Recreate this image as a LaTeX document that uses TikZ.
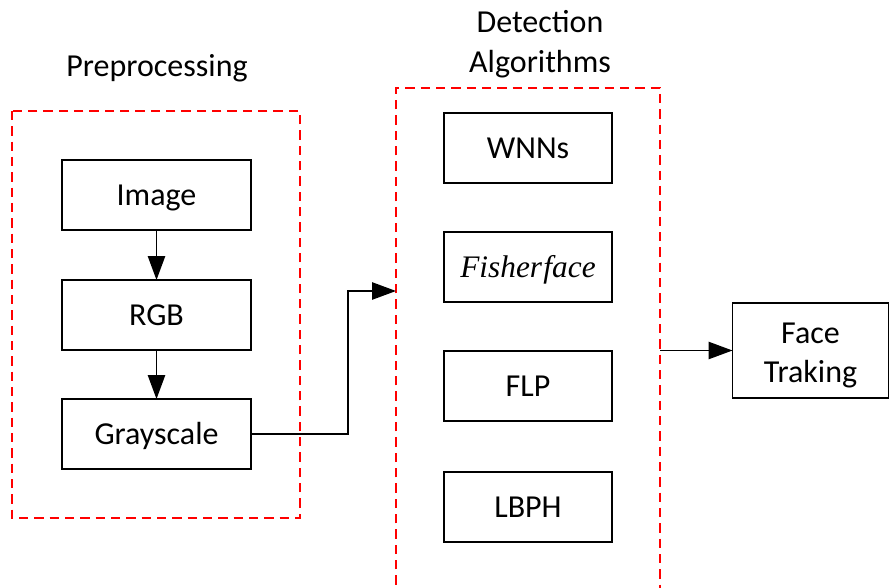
\documentclass[tikz,border=0pt]{standalone}
\usepackage{fontspec}
\setmainfont{Carlito}
\newfontfamily\serifit{Liberation Serif}
\usetikzlibrary{arrows.meta}
\begin{document}
\begin{tikzpicture}[x=0.75pt,y=-0.75pt,
  font=\fontsize{24}{29}\selectfont,
  stepbox/.style={draw=black,line width=1.3pt,inner sep=0pt,outer sep=0pt,
    minimum width=0.75*189pt,minimum height=0.75*70pt,
    text height=18pt,text depth=2pt},
  algbox/.style={stepbox,minimum width=0.75*168pt},
  dashbox/.style={draw=red,line width=1.6pt,dash pattern=on 7pt off 4.5pt},
  arr/.style={line width=1.2pt,-{Triangle[length=18pt,width=13pt]}},
  lbl/.style={inner sep=0pt,align=center}]
\useasboundingbox (0,0) rectangle (889,588);

% preprocessing group
\draw[dashbox] (12,111) rectangle (300,518);
\node[lbl] (pretitle) at (157,68) {Preprocessing};
\node[stepbox] (img)  at (156.5,195) {Image};
\node[stepbox] (rgb)  at (156.5,315) {RGB};
\node[stepbox] (gray) at (156.5,434) {Grayscale};
\draw[arr] (img) -- (rgb);
\draw[arr] (rgb) -- (gray);

% detection group (open at the bottom)
\draw[dashbox] (396,600) -- (396,88) -- (660,88) -- (660,600);
\node[lbl,font=\fontsize{24}{30}\selectfont] (dettitle) at (540,44) {Detection\\Algorithms};
\node[algbox] (wnn)  at (528,148) {WNNs};
\node[algbox] (fish) at (528,267) {\serifit\itshape\fontsize{23.5}{26}\selectfont Fisher\kern1pt face};
\node[algbox] (flp)  at (528,386) {FLP};
\node[algbox] (lbph) at (528,507) {LBPH};

% output
\node[draw=black,line width=1.3pt,inner sep=0pt,outer sep=0pt,align=center,
  minimum width=0.75*156pt,minimum height=0.75*95pt]
  (face) at (810.5,350.5) {\rule{0pt}{23pt}Face\\Traking};

% connectors
\coordinate (bend)   at (348,291);
\coordinate (detin)  at (396,291);
\coordinate (detout) at (660,350.5);
\draw[arr] (gray.east) -| (bend) -- (detin);
\draw[arr] (detout) -- (face.west);
\end{tikzpicture}
\end{document}
